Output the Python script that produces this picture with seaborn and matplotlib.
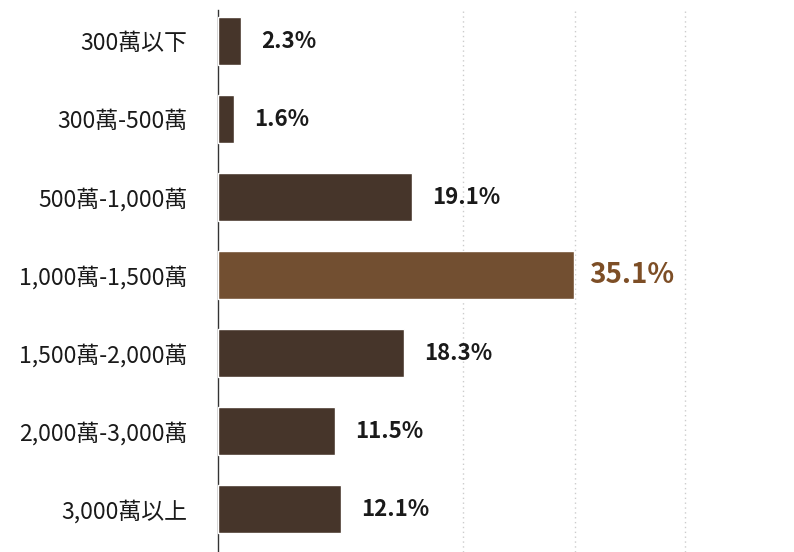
import matplotlib
matplotlib.use("Agg")
import matplotlib.pyplot as plt
import pandas as pd
import seaborn as sns

categories = ["300萬以下", "300萬-500萬", "500萬-1,000萬", "1,000萬-1,500萬",
              "1,500萬-2,000萬", "2,000萬-3,000萬", "3,000萬以上"]
shares = [2.3, 1.6, 19.1, 35.1, 18.3, 11.5, 12.1]
highlight = "1,000萬-1,500萬"

dark = "#4a3426"
brown = "#7d4e26"

sns.set_theme(style="white")
plt.rcParams['font.family'] = ['Noto Sans CJK TC', 'DejaVu Sans']

df = pd.DataFrame({"cat": categories, "share": shares})
palette = {c: (brown if c == highlight else dark) for c in categories}

fig = plt.figure(figsize=(7.94, 5.52), dpi=100)
ax = fig.add_axes([218 / 794, 0, 1 - 218 / 794, 542 / 552])

sns.barplot(data=df, x="share", y="cat", hue="cat", palette=palette,
            order=categories, width=0.62, legend=False, ax=ax, zorder=3)

for gx in [24.2, 35.2, 46.1]:
    ax.axvline(gx, color="#cccccc", lw=1, ls=(0, (1, 2.5)), zorder=1)

for i, (c, v) in enumerate(zip(categories, shares)):
    if c == highlight:
        ax.text(v + 1.5, i, f"{v}%", va="center", ha="left", fontsize=20,
                color=brown, fontweight="bold")
    else:
        ax.text(v + 2.0, i, f"{v}%", va="center", ha="left", fontsize=16,
                color="#1a1a1a", fontweight="bold")

ax.set_xlim(0, 56.8)
ax.set_ylim(6.55, -0.4)
ax.set_xlabel("")
ax.set_ylabel("")
ax.set_xticks([])
ax.tick_params(axis="y", length=0, pad=22, labelsize=16.5, labelcolor="#1a1a1a")
for s in ["top", "right", "bottom"]:
    ax.spines[s].set_visible(False)
ax.spines["left"].set_color("#333333")
ax.spines["left"].set_linewidth(1)

fig.savefig("out.png", dpi=100)
